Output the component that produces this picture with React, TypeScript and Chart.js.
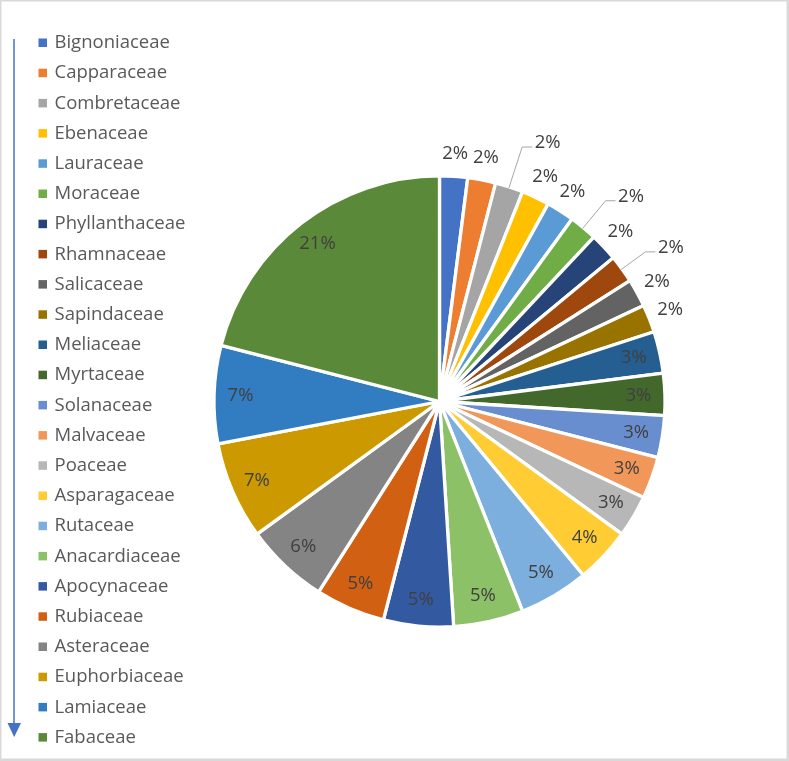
import React, { useEffect, useRef } from "react";
import { Chart, registerables } from "chart.js";

Chart.register(...registerables);

const families = [
  "Bignoniaceae", "Capparaceae", "Combretaceae", "Ebenaceae", "Lauraceae", "Moraceae",
  "Phyllanthaceae", "Rhamnaceae", "Salicaceae", "Sapindaceae", "Meliaceae", "Myrtaceae",
  "Solanaceae", "Malvaceae", "Poaceae", "Asparagaceae", "Rutaceae", "Anacardiaceae",
  "Apocynaceae", "Rubiaceae", "Asteraceae", "Euphorbiaceae", "Lamiaceae", "Fabaceae",
];

const shares = [2, 2, 2, 2, 2, 2, 2, 2, 2, 2, 3, 3, 3, 3, 3, 4, 5, 5, 5, 5, 6, 7, 7, 21];

const sliceColors = [
  "#4472C4", "#ED7D31", "#A5A5A5", "#FFC000", "#5B9BD5", "#70AD47",
  "#264478", "#9E480E", "#636363", "#997300", "#255E91", "#43682B",
  "#698ED0", "#F1975A", "#B7B7B7", "#FFCD33", "#7CAFDD", "#8CC168",
  "#335AA1", "#D26012", "#848484", "#CC9A00", "#327DC2", "#5A8A39",
];

// label placement style per slice
const labelModes = [
  "out", "out", "leader", "out", "out", "leader", "out", "leader", "out", "out",
  "in", "in", "in", "in", "in", "in", "in", "in", "in", "in", "in", "in", "in", "in",
];
// leader line reach beyond the pie edge (style), for slices with leaders
const leaderReach: Record<number, number> = { 2: 42, 5: 35, 7: 29 };

const FONT = '"Open Sans", Lato, sans-serif';
const FONT_SIZE = 18.5;

const overlayPlugin = {
  id: "overlay",
  afterDatasetsDraw(chart: any) {
    const ctx = chart.ctx as CanvasRenderingContext2D;
    const meta = chart.getDatasetMeta(0);
    const data = chart.data.datasets[0].data as number[];
    const total = data.reduce((a, b) => a + b, 0);
    ctx.save();
    ctx.font = `${FONT_SIZE}px ${FONT}`;
    ctx.fillStyle = "#404040";
    meta.data.forEach((el: any, i: number) => {
      const { x, y, startAngle, endAngle, outerRadius } = el.getProps(
        ["x", "y", "startAngle", "endAngle", "outerRadius"],
        true
      );
      const mid = (startAngle + endAngle) / 2;
      const c = Math.cos(mid);
      const s = Math.sin(mid);
      const text = Math.round((data[i] / total) * 100) + "%";
      const mode = labelModes[i];
      if (mode === "in") {
        const r = outerRadius - 26.5;
        ctx.textAlign = "center";
        ctx.textBaseline = "middle";
        ctx.fillText(text, x + c * r, y + s * r);
      } else if (mode === "out") {
        const r = outerRadius + 22.5;
        ctx.textAlign = "center";
        ctx.textBaseline = "middle";
        ctx.fillText(text, x + c * r, y + s * r);
      } else {
        const reach = leaderReach[i] ?? 35;
        const x0 = x + c * (outerRadius - 1);
        const y0 = y + s * (outerRadius - 1);
        const x1 = x + c * (outerRadius + reach);
        const y1 = y + s * (outerRadius + reach);
        const x2 = x1 + 10;
        ctx.beginPath();
        ctx.strokeStyle = "#A6A6A6";
        ctx.lineWidth = 1;
        ctx.moveTo(x0, y0);
        ctx.lineTo(x1, y1);
        ctx.lineTo(x2, y1);
        ctx.stroke();
        ctx.textAlign = "left";
        ctx.textBaseline = "middle";
        ctx.fillText(text, x2 + 2.5, y1 - 4.5);
      }
    });
    ctx.restore();
  },
  afterDraw(chart: any) {
    const ctx = chart.ctx as CanvasRenderingContext2D;
    const labels = chart.data.labels as string[];
    const colors = chart.data.datasets[0].backgroundColor as string[];
    ctx.save();
    // legend
    ctx.font = `${FONT_SIZE}px ${FONT}`;
    ctx.textAlign = "left";
    ctx.textBaseline = "middle";
    const top = 42.5;
    const step = 30.2;
    labels.forEach((lab, i) => {
      const cy = top + i * step;
      ctx.fillStyle = colors[i];
      ctx.fillRect(38.5, cy - 4, 8.5, 8.5);
      ctx.fillStyle = "#595959";
      ctx.fillText(lab, 54.5, cy + 0.5);
    });
    // arrow
    ctx.strokeStyle = "#4472C4";
    ctx.fillStyle = "#4472C4";
    ctx.lineWidth = 1.5;
    ctx.beginPath();
    ctx.moveTo(14, 39);
    ctx.lineTo(14, 725);
    ctx.stroke();
    ctx.beginPath();
    ctx.moveTo(7.5, 723);
    ctx.lineTo(21, 723);
    ctx.lineTo(14.2, 737);
    ctx.closePath();
    ctx.fill();
    // frame
    ctx.fillStyle = "#D9D9D9";
    ctx.fillRect(0, 0, 789, 1.5);
    ctx.fillRect(0, 0, 1.5, 761);
    ctx.fillRect(786.5, 0, 2.5, 761);
    ctx.fillRect(0, 758.5, 789, 2.5);
    ctx.restore();
  },
};

export default function App() {
  const ref = useRef<HTMLCanvasElement | null>(null);

  useEffect(() => {
    document.body.style.margin = "0";
    document.body.style.overflow = "hidden";
    let chart: Chart | null = null;
    let cancelled = false;
    const make = () => {
      if (cancelled || !ref.current) return;
      chart = new Chart(ref.current, {
        type: "pie",
        data: {
          labels: families,
          datasets: [
            {
              data: shares,
              backgroundColor: sliceColors,
              borderColor: "#FFFFFF",
              borderWidth: 3.3,
            },
          ],
        },
        options: {
          responsive: false,
          animation: false,
          layout: {
            padding: { left: 212.3, top: 174.3, right: 122.3, bottom: 132.3 },
          },
          plugins: {
            legend: { display: false },
            tooltip: { enabled: false },
          },
        },
        plugins: [overlayPlugin],
      });
    };
    const fontsAny: any = (document as any).fonts;
    if (fontsAny && fontsAny.load) {
      fontsAny.load(`${FONT_SIZE}px "Open Sans"`).then(make, make);
    } else {
      make();
    }
    return () => {
      cancelled = true;
      if (chart) chart.destroy();
    };
  }, []);

  return (
    <div style={{ position: "absolute", left: 0, top: 0, width: 789, height: 761, background: "#fff" }}>
      <canvas ref={ref} width={789} height={761} style={{ display: "block" }} />
    </div>
  );
}
